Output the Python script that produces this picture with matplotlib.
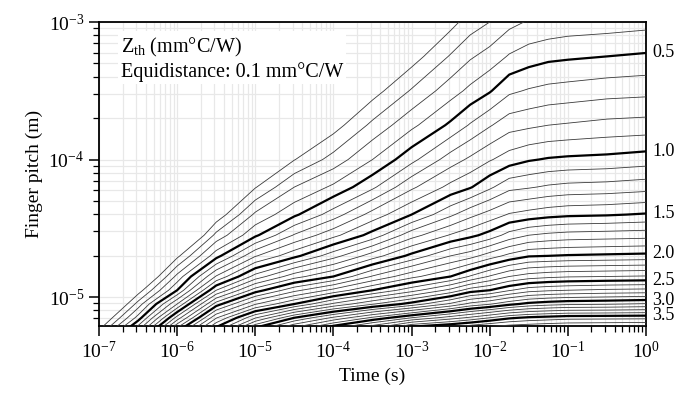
import numpy as np
import matplotlib
matplotlib.use("Agg")
import matplotlib.pyplot as plt
from matplotlib.ticker import LogLocator, NullFormatter
from matplotlib.transforms import blended_transform_factory
from contourpy import contour_generator

plt.rcParams["font.family"] = ["Liberation Serif", "DejaVu Serif"]
plt.rcParams["mathtext.fontset"] = "custom"
plt.rcParams["mathtext.rm"] = "Liberation Serif"
plt.rcParams["mathtext.it"] = "Liberation Serif:italic"

# Zth map (mm°C/W): columns = log10(time), rows = log10(pitch).
# Nodes up-left of the 0.1 contour carry the field continued past zero, so that
# the 0.1 line sits where it is drawn (nothing is drawn there).
log_time = [-7.0, -6.5, -6.0, -5.5, -5.0, -4.5, -4.0, -3.5, -3.0, -2.5, -2.25,
            -2.0, -1.75, -1.5, -1.25, -1.0, -0.5, 0.0]
log_pitch = [-5.25, -5.15, -5.05, -4.95, -4.85, -4.70, -4.55, -4.40, -4.20,
             -4.00, -3.75, -3.50, -3.25, -3.00]
zth = [
    [0.12, 0.72, 1.50, 2.10, 2.62, 2.93, 3.20, 3.42, 3.72, 3.78, 3.83, 3.87, 3.89, 3.90, 3.92, 3.93, 3.94, 3.95],
    [-0.077, 0.44, 1.14, 1.79, 2.19, 2.50, 2.72, 2.92, 3.10, 3.25, 3.32, 3.40, 3.48, 3.52, 3.54, 3.56, 3.565, 3.57],
    [-0.27, 0.24, 0.80, 1.45, 1.79, 2.00, 2.22, 2.39, 2.54, 2.72, 2.83, 2.89, 2.97, 3.03, 3.06, 3.08, 3.09, 3.11],
    [-0.47, 0.044, 0.50, 1.10, 1.45, 1.67, 1.83, 2.00, 2.16, 2.33, 2.45, 2.50, 2.59, 2.66, 2.685, 2.70, 2.72, 2.73],
    [-0.5, -0.15, 0.33, 0.81, 1.14, 1.36, 1.50, 1.71, 1.87, 2.00, 2.11, 2.21, 2.30, 2.35, 2.375, 2.39, 2.40, 2.41],
    [-0.5, -0.45, 0.073, 0.46, 0.79, 0.97, 1.16, 1.35, 1.53, 1.70, 1.76, 1.85, 1.93, 1.99, 2.00, 2.01, 2.02, 2.03],
    [-0.5, -0.5, -0.19, 0.23, 0.48, 0.71, 0.87, 1.04, 1.26, 1.41, 1.47, 1.54, 1.64, 1.70, 1.725, 1.74, 1.75, 1.76],
    [-0.5, -0.5, -0.44, 0.025, 0.32, 0.48, 0.65, 0.84, 1.00, 1.18, 1.27, 1.34, 1.41, 1.44, 1.465, 1.48, 1.49, 1.51],
    [-0.5, -0.5, -0.5, -0.25, 0.092, 0.30, 0.42, 0.58, 0.78, 0.93, 0.99, 1.08, 1.17, 1.19, 1.215, 1.23, 1.24, 1.26],
    [-0.5, -0.5, -0.5, -0.5, -0.14, 0.096, 0.24, 0.40, 0.57, 0.75, 0.82, 0.89, 0.95, 0.99, 1.01, 1.02, 1.03, 1.05],
    [-0.5, -0.5, -0.5, -0.5, -0.43, -0.15, 0.053, 0.225, 0.375, 0.52, 0.61, 0.69, 0.76, 0.78, 0.80, 0.81, 0.83, 0.84],
    [-0.5, -0.5, -0.5, -0.5, -0.5, -0.39, -0.15, 0.054, 0.21, 0.355, 0.425, 0.49, 0.58, 0.61, 0.63, 0.64, 0.66, 0.67],
    [-0.5, -0.5, -0.5, -0.5, -0.5, -0.5, -0.35, -0.12, 0.05, 0.21, 0.286, 0.34, 0.41, 0.45, 0.475, 0.485, 0.50, 0.515],
    [-0.5, -0.5, -0.5, -0.5, -0.5, -0.5, -0.5, -0.29, -0.11, 0.064, 0.148, 0.20, 0.27, 0.31, 0.325, 0.34, 0.35, 0.365],
]
levels = [round(0.1 * k, 1) for k in range(1, 40)]
label_levels = [0.5, 1.0, 1.5, 2.0, 2.5, 3.0, 3.5]

fig = plt.figure(figsize=(6.86, 3.98), dpi=100)
ax = fig.add_axes([0.1443, 0.1809, 0.7974, 0.7638])
ax.set_xscale("log")
ax.set_yscale("log")

gen = contour_generator(x=log_time, y=log_pitch, z=np.array(zth))
for lev in levels:
    bold = lev in label_levels
    for seg in gen.lines(lev):
        ax.plot(10 ** seg[:, 0], 10 ** seg[:, 1],
                color="black" if bold else "#3a3a3a",
                lw=1.6 if bold else 0.6, zorder=3)

ax.set_xlim(1e-7, 1)
ax.set_ylim(10 ** -5.21, 1e-3)

for axis in (ax.xaxis, ax.yaxis):
    axis.set_major_locator(LogLocator(base=10, numticks=20))
    axis.set_minor_locator(LogLocator(base=10, subs=np.arange(2, 10), numticks=20))
    axis.set_minor_formatter(NullFormatter())
ax.grid(which="both", color="#e8e8e8", lw=0.9, zorder=0)
ax.set_axisbelow(True)

ax.tick_params(which="major", length=7, width=1.1, labelsize=14, direction="out")
ax.tick_params(which="minor", length=4, width=0.9, direction="out")
for sp in ax.spines.values():
    sp.set_linewidth(1.3)

ax.set_xlabel("Time (s)", fontsize=14)
ax.set_ylabel("Finger pitch (m)", fontsize=14)

ax.text(0.04, 0.955, "$\\mathrm{Z_{th}}$ (mm°C/W)\nEquidistance: 0.1 mm°C/W",
        transform=ax.transAxes, fontsize=14.5, va="top", ha="left", linespacing=1.2,
        bbox=dict(facecolor="white", edgecolor="none", pad=2), zorder=4)

# level labels at the right edge
z_last = [row[-1] for row in zth]
trans = blended_transform_factory(ax.transAxes, ax.transData)
for lev in label_levels:
    lp = np.interp(lev, z_last[::-1], log_pitch[::-1])
    ax.text(1.012, 10 ** lp, f"{lev:.1f}", transform=trans, fontsize=13,
            va="center", ha="left")

fig.savefig("out.png", dpi=100)
